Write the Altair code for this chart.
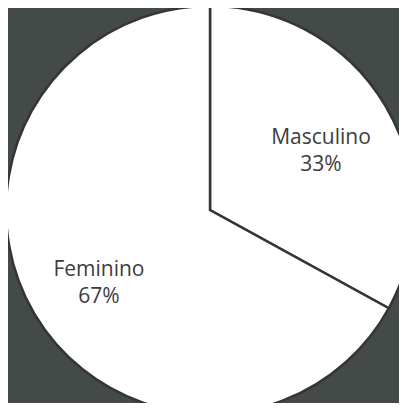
import altair as alt
import pandas as pd

categories = ["Masculino", "Feminino"]
values = [33, 67]
labels = ["Masculino\n33%", "Feminino\n67%"]

df = pd.DataFrame({
    "categoria": categories,
    "valor": values,
    "rotulo": labels,
    "ordem": list(range(len(categories))),
})

base = alt.Chart(df).encode(
    theta=alt.Theta("valor:Q", stack=True),
    order=alt.Order("ordem:Q"),
    x=alt.value(202),
    y=alt.value(202),
)

pie = base.mark_arc(
    radius=204,
    fill="white",
    stroke="#353535",
    strokeWidth=2.5,
)

text = base.mark_text(
    radius=129,
    dy=-6,
    font="Open Sans",
    fontSize=21,
    color="#3d3d3d",
    lineBreak="\n",
    lineHeight=27,
    align="center",
    baseline="middle",
).encode(text="rotulo:N")

chart = (pie + text).properties(
    width=391,
    height=395,
    padding=0,
    background="#434a47",
    autosize=alt.AutoSizeParams(type="none"),
).configure_view(stroke=None)

chart.save("out.html", embed_options={"renderer": "svg", "actions": False})
